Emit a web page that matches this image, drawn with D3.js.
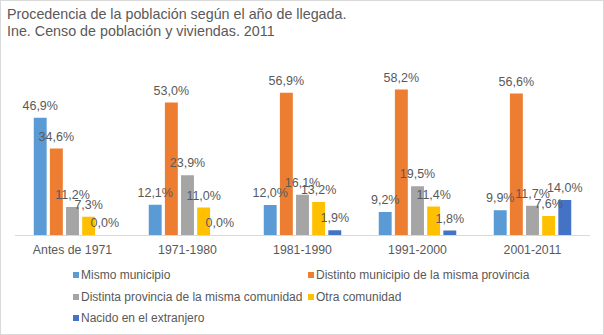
<!DOCTYPE html>
<html>
<head>
<meta charset="utf-8">
<script src="https://cdn.jsdelivr.net/npm/d3@7.9.0/dist/d3.min.js"></script>
<style>
  body { margin: 0; background: #fff; }
  svg { display: block; font-family: "Liberation Sans", Arial, sans-serif; }
</style>
</head>
<body>
<svg id="chart" width="604" height="335"></svg>
<script>
const categories = ['Antes de 1971', '1971-1980', '1981-1990', '1991-2000', '2001-2011'];
const seriesNames = [
  'Mismo municipio',
  'Distinto municipio de la misma provincia',
  'Distinta provincia de la misma comunidad',
  'Otra comunidad',
  'Nacido en el extranjero'
];
const mismoMunicipio = [46.9, 12.1, 12.0, 9.2, 9.9];
const distintoMunicipio = [34.6, 53.0, 56.9, 58.2, 56.6];
const distintaProvincia = [11.2, 23.9, 16.1, 19.5, 11.7];
const otraComunidad = [7.3, 11.0, 13.2, 11.4, 7.6];
const extranjero = [0.0, 0.0, 1.9, 1.8, 14.0];
const seriesValues = [mismoMunicipio, distintoMunicipio, distintaProvincia, otraComunidad, extranjero];
const colors = ['#5B9BD5', '#ED7D31', '#A5A5A5', '#FFC000', '#4472C4'];

const svg = d3.select('#chart');
const textColor = '#595959';

// frame
svg.append('rect')
  .attr('x', 0.5).attr('y', 0.5)
  .attr('width', 603).attr('height', 334)
  .attr('fill', '#fff').attr('stroke', '#D9D9D9');

// title
const title = svg.append('text')
  .attr('x', 7).attr('y', 19)
  .attr('fill', textColor)
  .style('font-size', '14.3px');
title.append('tspan').attr('x', 7).text('Procedencia de la población según el año de llegada.');
title.append('tspan').attr('x', 7).attr('dy', 17).text('Ine. Censo de población y viviendas. 2011');

const left = 15, right = 590, baseline = 235;

const x0 = d3.scaleBand()
  .domain(categories)
  .range([left, right])
  .paddingInner(0.27)
  .paddingOuter(0.135);

const x1 = d3.scaleBand()
  .domain(d3.range(seriesNames.length))
  .range([0, x0.bandwidth()])
  .padding(0.2);

const y = d3.scaleLinear().domain([0, 60]).range([baseline, baseline - 150]);

const groups = svg.append('g')
  .selectAll('g')
  .data(categories)
  .join('g')
  .attr('transform', d => `translate(${x0(d)},0)`);

groups.selectAll('rect')
  .data((d, ci) => seriesValues.map((vals, si) => ({ si, v: vals[ci] })))
  .join('rect')
  .attr('x', d => x1(d.si))
  .attr('y', d => y(d.v))
  .attr('width', x1.bandwidth())
  .attr('height', d => baseline - y(d.v))
  .attr('fill', d => colors[d.si]);

groups.selectAll('text')
  .data((d, ci) => seriesValues.map((vals, si) => ({ si, v: vals[ci] })))
  .join('text')
  .attr('x', d => x1(d.si) + x1.bandwidth() / 2)
  .attr('y', d => y(d.v) - 8)
  .attr('text-anchor', 'middle')
  .attr('fill', textColor)
  .style('font-size', '12.5px')
  .text(d => d3.format('.1f')(d.v).replace('.', ',') + '%');

// axis
const xAxis = svg.append('g')
  .attr('transform', `translate(0,${baseline})`)
  .call(d3.axisBottom(x0).tickSize(0).tickPadding(10).tickSizeOuter(0));
xAxis.select('.domain').attr('stroke', '#D9D9D9').attr('d', `M${left},0.5H${right}`);
xAxis.selectAll('text')
  .attr('fill', textColor)
  .style('font-size', '12.3px')
  .style('font-family', '"Liberation Sans", Arial, sans-serif');

// legend
const legendPos = [[73, 275], [308, 275], [73, 297], [308, 297], [73, 318]];
const legend = svg.append('g')
  .selectAll('g')
  .data(seriesNames)
  .join('g')
  .attr('transform', (d, i) => `translate(${legendPos[i][0]},${legendPos[i][1]})`);
legend.append('rect')
  .attr('x', 0).attr('y', -3)
  .attr('width', 6).attr('height', 6)
  .attr('fill', (d, i) => colors[i]);
legend.append('text')
  .attr('x', 8).attr('y', 4)
  .attr('fill', textColor)
  .style('font-size', '12px')
  .text(d => d);
</script>
</body>
</html>
